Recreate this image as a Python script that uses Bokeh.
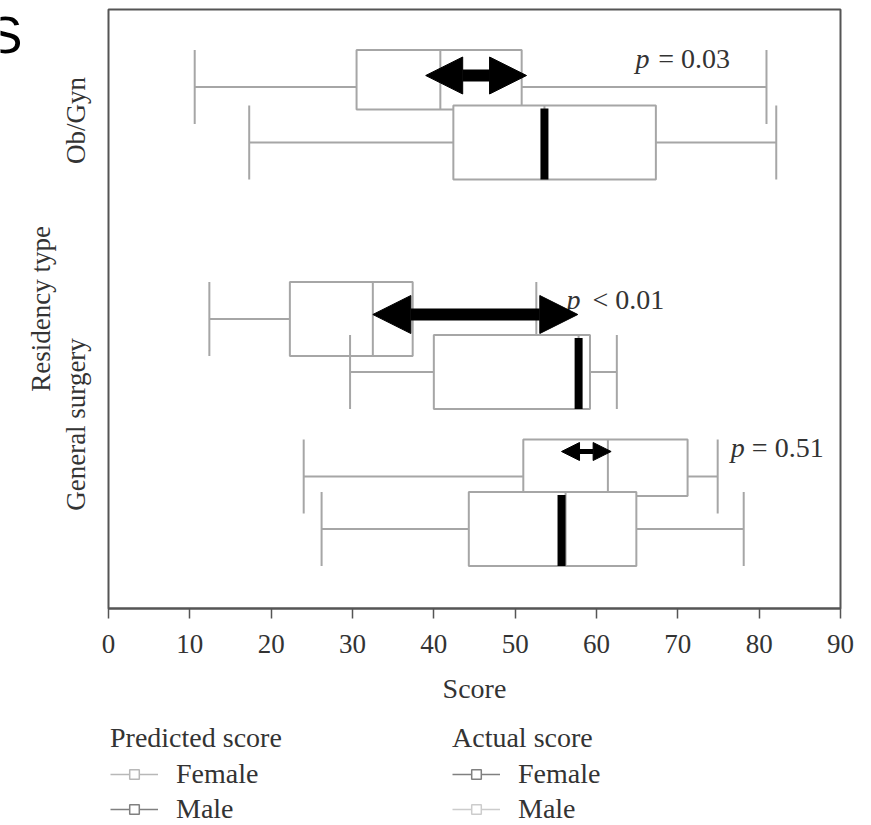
from bokeh.plotting import figure
from bokeh.layouts import column, row
from bokeh.models import (Range1d, FixedTicker, Arrow, NormalHead,
                          Legend, LegendItem)
from bokeh.core.properties import value
from bokeh.embed import file_html
from bokeh.resources import INLINE

# ---------------- data ----------------
row_names = ["Ob/Gyn", "General surgery (upper)", "General surgery (lower)"]
residency_labels = ["Ob/Gyn", "General surgery"]

# predicted score boxes: whisker low, Q1, median, Q3, whisker high
pred_low = [10.6, 12.4, 24.0]
pred_q1 = [30.5, 22.3, 51.0]
pred_med = [40.8, 32.5, 61.4]
pred_q3 = [50.8, 37.4, 71.2]
pred_high = [80.9, 52.6, 74.9]

# actual score boxes
act_low = [17.3, 29.7, 26.2]
act_q1 = [42.4, 40.0, 44.3]
act_med = [53.6, 57.8, 56.2]
act_q3 = [67.3, 59.2, 64.9]
act_high = [82.1, 62.5, 78.1]
act_mark = [53.6, 57.8, 55.7]      # thick black bar

# difference arrows (score units)
arrow_from = [39.0, 32.5, 55.7]
arrow_to = [51.4, 57.7, 61.8]

p_symbol = ["p", "p", "p"]
p_text = ["= 0.03", "< 0.01", "= 0.51"]

x_ticks = [0, 10, 20, 30, 40, 50, 60, 70, 80, 90]

legend_titles = ["Predicted score", "Actual score"]
legend_labels = ["Female", "Male"]

# ---------------- layout (positions / styles) ----------------
pred_center = [86.5, 318.5, 476.0]
act_center = [142.0, 371.5, 528.5]
half = 37.0
row_label_pos = [120, 424]
arrow_y = [75, 314, 451]
arrow_head = [37, 38, 18]
arrow_shaft = [12, 12, 5]
p_sym_x = [64.8, 56.3, 76.5]
p_txt_x = [67.6, 59.5, 79.1]
p_base = [58, 299, 447]

SERIF = "Liberation Serif"
BOX = "#a6a6a6"
TXT = "#333333"
FS = "28px"
S_W = 21
MAIN_H = 720

p = figure(width=871 - S_W, height=MAIN_H, x_range=Range1d(0, 90), y_range=Range1d(608, 9),
           output_backend="svg", toolbar_location=None,
           min_border_left=108 - S_W, min_border_right=31, min_border_top=9,
           min_border_bottom=MAIN_H - 608)
p.xgrid.visible = False
p.ygrid.visible = False
p.outline_line_color = "#555555"
p.outline_line_width = 2
p.background_fill_color = "white"
p.border_fill_color = "white"


def draw_boxes(low, q1, med, q3, high, centers, bottoms):
    tops = [c - half for c in centers]
    cap_bot = [c + half for c in centers]
    p.segment(x0=low + q3, y0=centers + centers, x1=q1 + high, y1=centers + centers,
              line_color=BOX, line_width=2)
    p.segment(x0=low + high, y0=tops + tops, x1=low + high, y1=cap_bot + cap_bot,
              line_color=BOX, line_width=2)
    p.quad(left=q1, right=q3, top=tops, bottom=bottoms, fill_color="white",
           line_color=BOX, line_width=2)
    p.segment(x0=med, y0=tops, x1=med, y1=bottoms, line_color=BOX, line_width=2)


pred_bottom = [
    (act_center[i] - half + 4) if pred_q3[i] > act_q1[i] else (pred_center[i] + half)
    for i in range(len(pred_center))
]
act_bottom = [c + half for c in act_center]

draw_boxes(pred_low, pred_q1, pred_med, pred_q3, pred_high, pred_center, pred_bottom)
draw_boxes(act_low, act_q1, act_med, act_q3, act_high, act_center, act_bottom)

p.segment(x0=act_mark, y0=[c - half + 3 for c in act_center], x1=act_mark,
          y1=[c + half for c in act_center], line_color="black", line_width=8)

p.text(x=p_sym_x, y=p_base, text=p_symbol, text_font=value(SERIF),
       text_font_style="italic", text_font_size=FS, text_color=TXT,
       text_baseline="alphabetic", text_align="left")
p.text(x=p_txt_x, y=p_base, text=p_text, text_font=value(SERIF),
       text_font_size=FS, text_color=TXT,
       text_baseline="alphabetic", text_align="left")

for i in range(len(arrow_from)):
    p.add_layout(Arrow(
        start=NormalHead(size=arrow_head[i], fill_color="black", line_color="black", line_width=1),
        end=NormalHead(size=arrow_head[i], fill_color="black", line_color="black", line_width=1),
        x_start=arrow_from[i], y_start=arrow_y[i], x_end=arrow_to[i], y_end=arrow_y[i],
        line_color="black", line_width=arrow_shaft[i]))

xa = p.xaxis[0]
xa.ticker = FixedTicker(ticks=x_ticks)
xa.axis_label = "Score"
xa.axis_label_text_font = SERIF
xa.axis_label_text_font_size = FS
xa.axis_label_text_font_style = "normal"
xa.axis_label_text_color = TXT
xa.axis_label_standoff = 17
xa.major_label_text_font = SERIF
xa.major_label_text_font_size = "27px"
xa.major_label_text_color = TXT
xa.major_label_standoff = 16
xa.axis_line_color = "#555555"
xa.axis_line_width = 2
xa.major_tick_line_color = "#555555"
xa.major_tick_line_width = 1.5
xa.major_tick_out = 10
xa.major_tick_in = 0
xa.minor_tick_line_color = None

ya = p.yaxis[0]
ya.ticker = FixedTicker(ticks=row_label_pos)
ya.major_label_overrides = {row_label_pos[i]: residency_labels[i] for i in range(len(residency_labels))}
ya.major_label_orientation = "vertical"
ya.axis_label = "Residency type"
ya.axis_label_text_font = SERIF
ya.axis_label_text_font_size = "27px"
ya.axis_label_text_font_style = "normal"
ya.axis_label_text_color = TXT
ya.axis_label_standoff = 2
ya.major_label_text_font = SERIF
ya.major_label_text_font_size = "27px"
ya.major_label_text_color = TXT
ya.major_label_standoff = 18
ya.axis_line_color = None
ya.major_tick_line_color = None
ya.minor_tick_line_color = None
ya.major_tick_out = 0
ya.major_tick_in = 0

# ---------------- legend strip ----------------
lf = figure(width=871, height=825 - MAIN_H, x_range=Range1d(0, 1), y_range=Range1d(0, 1),
            output_backend="svg", toolbar_location=None, min_border=0,
            x_axis_location=None, y_axis_location=None)
lf.grid.visible = False
lf.outline_line_color = None


def legend_entry(color):
    # glyphs placed outside the visible range: only their legend swatches show
    lr = lf.line(x=[-5, -4], y=[-5, -5], line_color=color, line_width=1.5)
    sr = lf.scatter(x=[-5], y=[-5], marker="square", size=10, fill_color="white",
                    line_color=color, line_width=1.5)
    return [lr, sr]


legend_colors = [["#b8b8b8", "#808080"], ["#808080", "#cccccc"]]
legend_x = [110, 452]
for k in range(len(legend_titles)):
    items = [LegendItem(label=value(legend_labels[j]), renderers=legend_entry(legend_colors[k][j]))
             for j in range(len(legend_labels))]
    leg = Legend(items=items, title=legend_titles[k], location=(legend_x[k], 0),
                 orientation="vertical", glyph_width=48, glyph_height=24,
                 label_standoff=18, padding=0, margin=0, spacing=3, title_standoff=4,
                 border_line_color=None, background_fill_alpha=0,
                 label_text_font=SERIF, label_text_font_size=FS, label_text_color=TXT,
                 title_text_font=SERIF, title_text_font_size=FS,
                 title_text_font_style="normal", title_text_color=TXT)
    lf.add_layout(leg, "center")

# ---------------- panel letter strip (cropped "S") ----------------
sf = figure(width=S_W, height=MAIN_H, x_range=Range1d(0, S_W), y_range=Range1d(MAIN_H, 0),
            output_backend="svg", toolbar_location=None, min_border=0,
            x_axis_location=None, y_axis_location=None)
sf.grid.visible = False
sf.outline_line_color = None
sf.text(x=[S_W + 1], y=[31], text=["S"], text_font=value("Liberation Sans"),
        text_font_size="52px", text_color="black", text_align="right",
        text_baseline="alphabetic")

page = column(row(sf, p), lf)

open("out.html", "w").write(file_html(page, INLINE))
